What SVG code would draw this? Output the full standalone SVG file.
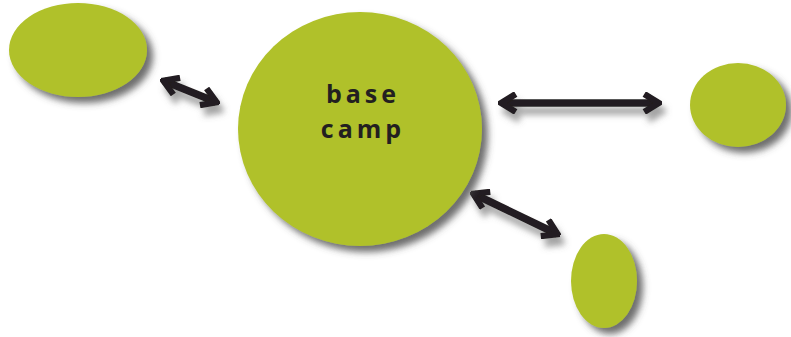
<svg xmlns="http://www.w3.org/2000/svg" width="791" height="337" viewBox="0 0 791 337">
<defs>
<filter id="sh" x="-20%" y="-20%" width="150%" height="150%">
<feGaussianBlur in="SourceAlpha" stdDeviation="3.5"/>
<feOffset dx="6" dy="6" result="b"/>
<feFlood flood-color="#4a4a4a" flood-opacity="0.8"/>
<feComposite in2="b" operator="in" result="s"/>
<feMerge><feMergeNode in="s"/><feMergeNode in="SourceGraphic"/></feMerge>
</filter>
<filter id="ash" x="-20%" y="-50%" width="150%" height="250%">
<feGaussianBlur in="SourceAlpha" stdDeviation="3"/>
<feOffset dx="4" dy="8" result="b"/>
<feFlood flood-color="#666" flood-opacity="0.6"/>
<feComposite in2="b" operator="in" result="s"/>
<feMerge><feMergeNode in="s"/><feMergeNode in="SourceGraphic"/></feMerge>
</filter>
<marker id="head" viewBox="0 0 10 10" refX="8.3" refY="5" markerWidth="3" markerHeight="3" orient="auto-start-reverse" markerUnits="strokeWidth">
<path d="M2.2,1 L8.6,5 L2.2,9" fill="none" stroke="#231f20" stroke-width="2.8" stroke-linejoin="miter"/>
</marker>
<style>
.node{fill:#b0c12a;filter:url(#sh)}
.arr{stroke:#231f20;stroke-width:7.5;fill:none;marker-start:url(#head);marker-end:url(#head)}
.lbl{font-family:"Open Sans","DejaVu Sans",sans-serif;font-weight:bold;font-size:25px;fill:#231f20;letter-spacing:4px;text-anchor:middle}
</style>
</defs>
<g id="connectors" filter="url(#ash)">
<line class="arr" x1="164" y1="81" x2="216" y2="102"/>
<line class="arr" x1="502" y1="103" x2="658" y2="103"/>
<line class="arr" x1="474" y1="194" x2="557" y2="234"/>
</g>
<g id="node-topleft"><ellipse class="node" cx="78" cy="50" rx="69" ry="47"/></g>
<g id="node-base"><ellipse class="node" cx="360" cy="129" rx="122" ry="117"/>
<text class="lbl" x="363" y="103">base</text>
<text class="lbl" x="363" y="138">camp</text></g>
<g id="node-right"><ellipse class="node" cx="738" cy="105" rx="48" ry="42"/></g>
<g id="node-bottom"><ellipse class="node" cx="604" cy="281" rx="33" ry="47"/></g>
</svg>
